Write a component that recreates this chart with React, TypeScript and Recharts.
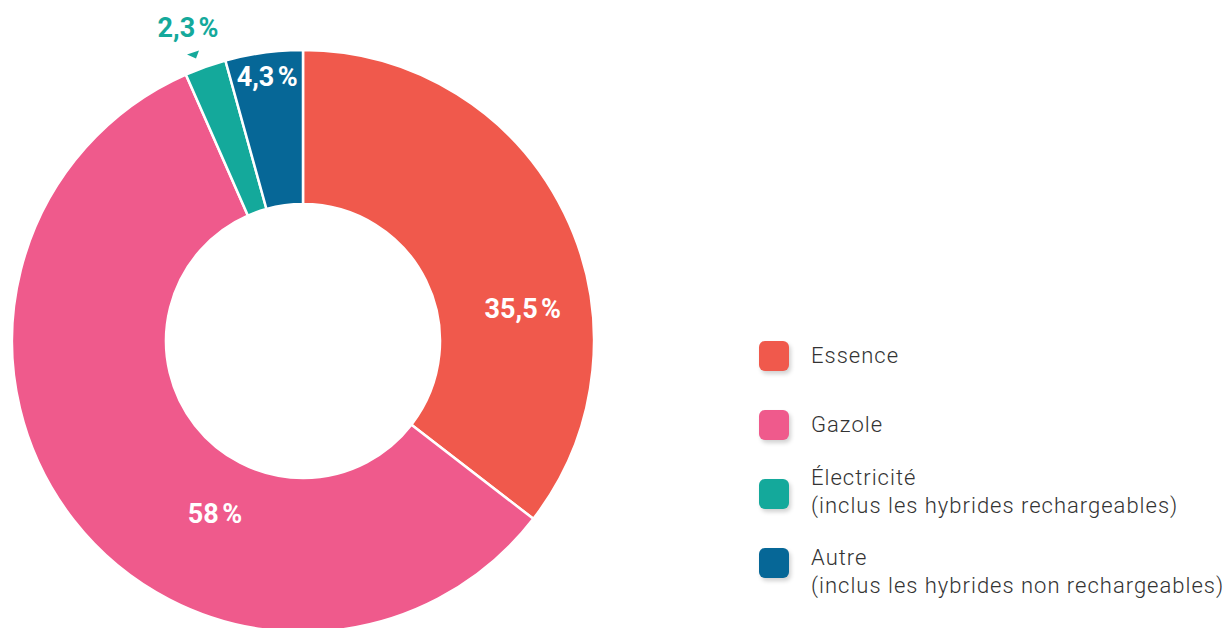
import { PieChart, Pie, Cell, Legend } from "recharts";

const CATEGORIES = ["Essence", "Gazole", "Électricité", "Autre"];
const SUBTITLES = ["", "", "(inclus les hybrides rechargeables)", "(inclus les hybrides non rechargeables)"];
const SHARES = [35.5, 58, 2.3, 4.3];

const COLORS = [
  "#f0594c", // essence
  "#ef5a8c", // gazole
  "#14a99b", // électricité
  "#066797", // autre
];

// label placement: angle shift (deg) from slice middle, radius, inside/outside
const LABEL_SHIFT = [-18, 25, 0.6, 0];
const LABEL_RADIUS = [222, 194, 333, 266];
const LABEL_OUTSIDE = [false, false, true, false];
// legend text nudge (px) relative to its square
const LEGEND_TEXT_SHIFT = [0, 0, -2, 9];

const RAD = Math.PI / 180;

const data = CATEGORIES.map((name, i) => ({
  name,
  sub: SUBTITLES[i],
  value: SHARES[i],
}));

const fmt = (v: number) => `${String(v).replace(".", ",")}\u202F%`;

function renderLabel(props: any) {
  const { cx, cy, midAngle, index, value } = props;
  const a = (midAngle + LABEL_SHIFT[index]) * RAD;
  const r = LABEL_RADIUS[index];
  const x = cx + r * Math.cos(a);
  const y = cy - r * Math.sin(a);
  const text = (
    <text
      x={x}
      y={y}
      textAnchor="middle"
      dominantBaseline="central"
      fill={LABEL_OUTSIDE[index] ? COLORS[index] : "#fff"}
      fontSize={27}
      fontWeight={700}
      letterSpacing={1.2}
      fontFamily="Roboto, sans-serif"
    >
      {fmt(value)}
    </text>
  );
  if (LABEL_OUTSIDE[index]) {
    // little pointer between the label and its thin slice
    const ta = (midAngle + 1.4) * RAD;
    const tx = cx + 307 * Math.cos(ta);
    const ty = cy - 307 * Math.sin(ta);
    return (
      <g>
        <path
          d={`M${tx - 6},${ty} L${tx + 6},${ty - 4} L${tx + 3},${ty + 4} Z`}
          fill={COLORS[index]}
        />
        {text}
      </g>
    );
  }
  return text;
}

function LegendBox() {
  return (
    <div style={{ fontFamily: "Roboto, sans-serif" }}>
      {data.map((item, i) => (
        <div
          key={item.name}
          style={{ height: 69, display: "flex", alignItems: "center" }}
        >
          <div
            style={{
              width: 30,
              height: 30,
              borderRadius: 6,
              background: COLORS[i],
              boxShadow: "2px 3px 4px rgba(0,0,0,0.18)",
              flexShrink: 0,
            }}
          />
          <div
            style={{
              marginLeft: 22,
              fontSize: 22,
              fontWeight: 300,
              letterSpacing: 1,
              color: "#333",
              lineHeight: "28px",
              whiteSpace: "nowrap",
              position: "relative",
              top: LEGEND_TEXT_SHIFT[i],
            }}
          >
            <div>{item.name}</div>
            {item.sub ? <div>{item.sub}</div> : null}
          </div>
        </div>
      ))}
    </div>
  );
}

export default function App() {
  return (
    <div style={{ position: "absolute", left: 0, top: 0, background: "#fff" }}>
      <PieChart
        width={1225}
        height={628}
        margin={{ top: 0, right: 0, bottom: 0, left: 0 }}
      >
        <Pie
          data={data}
          dataKey="value"
          nameKey="name"
          cx={303}
          cy={341}
          innerRadius={137}
          outerRadius={291}
          startAngle={90}
          endAngle={-270}
          stroke="#fff"
          strokeWidth={2.5}
          label={renderLabel}
          labelLine={false}
          isAnimationActive={false}
        >
          {data.map((d, i) => (
            <Cell key={d.name} fill={COLORS[i]} />
          ))}
        </Pie>
        <Legend
          layout="vertical"
          content={<LegendBox />}
          wrapperStyle={{ position: "absolute", left: 759, top: 321, width: 466 }}
        />
      </PieChart>
    </div>
  );
}
